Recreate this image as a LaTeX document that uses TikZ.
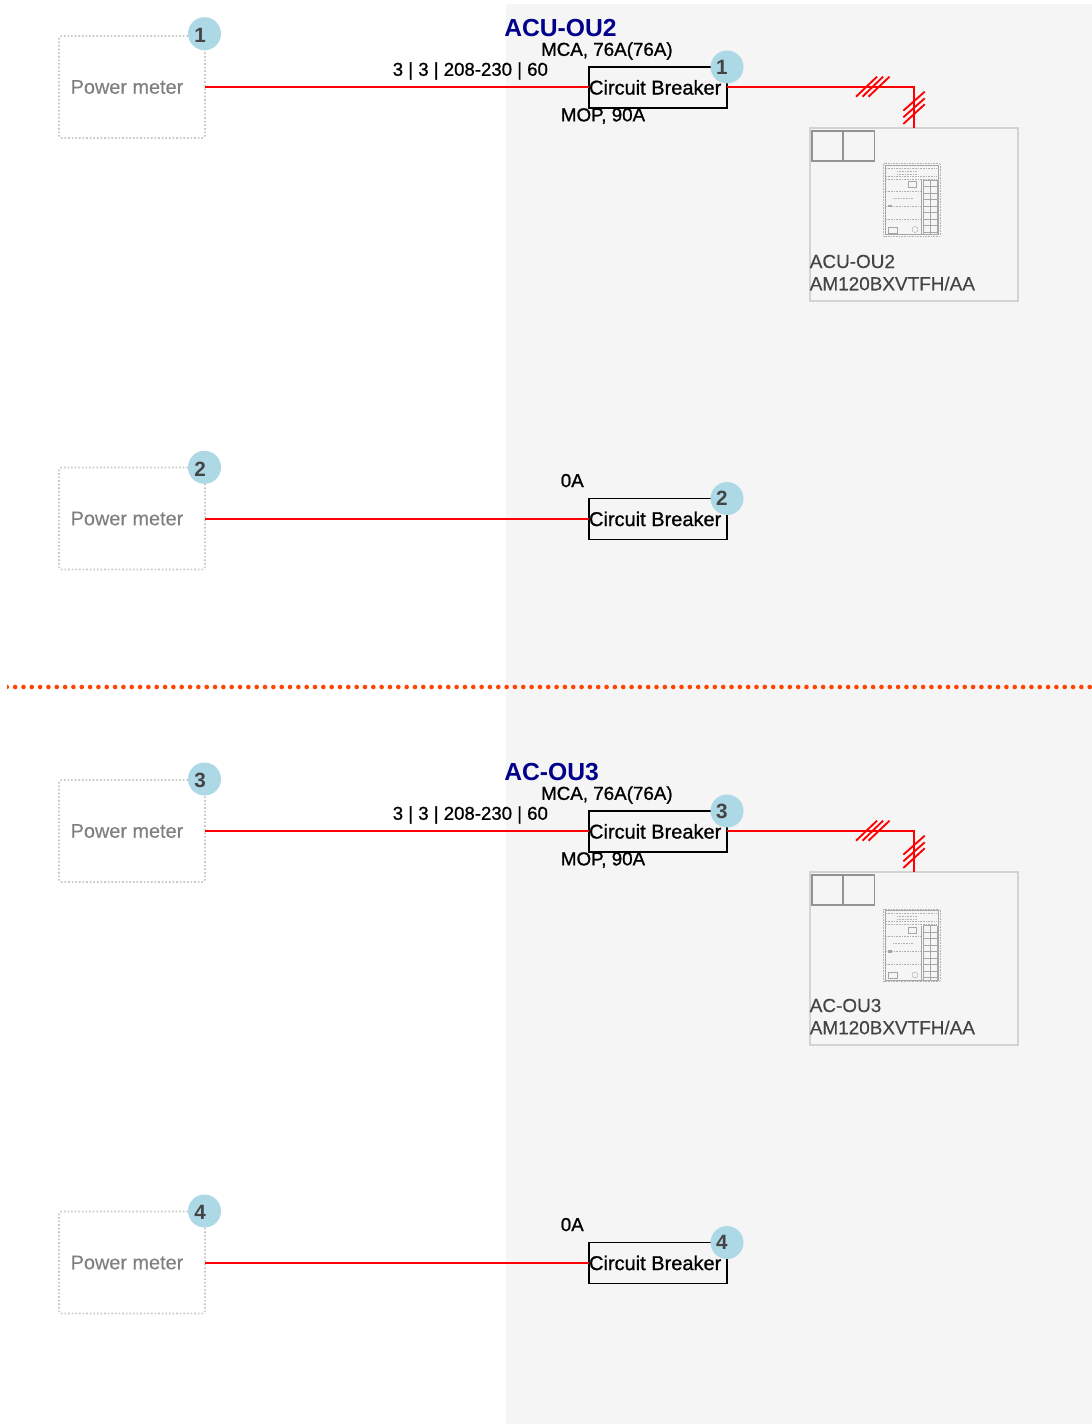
\documentclass[tikz,border=0pt]{standalone}
\usepackage{fontspec}
\setmainfont{Liberation Sans}
\newfontfamily\semibold[FakeBold=0.9]{Liberation Sans}
\newfontfamily\lightbold[FakeBold=0.3]{Liberation Sans}
\definecolor{bggray}{HTML}{F5F5F5}
\definecolor{badgeblue}{HTML}{ADD8E6}
\definecolor{darktxt}{HTML}{444444}
\definecolor{pmtxt}{HTML}{808080}
\definecolor{framegray}{HTML}{D3D3D3}
\definecolor{pmframe}{HTML}{C8C8C8}
\definecolor{sepred}{HTML}{FF4500}
\definecolor{titleblue}{HTML}{00008B}
\tikzset{
  x=0.75pt,y=-0.75pt,
  pmbox/.style={draw=pmframe,line width=1.2pt,dash pattern=on 1.2pt off 1.5pt,rounded corners=2pt,minimum width=109.5pt,minimum height=76.5pt,inner sep=0pt,outer sep=0pt},
  pmlabel/.style={text=pmtxt,font=\lightbold\fontsize{14.9}{15}\selectfont,inner sep=0pt},
  cbbox/.style={draw=black,line width=1.1pt,minimum width=103.5pt,minimum height=30.75pt,inner sep=0pt,outer sep=0pt},
  cblabel/.style={text=black,font=\semibold\fontsize{15}{15}\selectfont,inner sep=0pt},
  badge/.style={circle,fill=badgeblue,minimum size=24.75pt,inner sep=0pt},
  badgenum/.style={text=darktxt,font=\bfseries\fontsize{15.5}{16}\selectfont,inner sep=0pt},
  wire/.style={draw=red,line width=1.5pt},
  tick/.style={draw=red,line width=1.4pt},
  elec/.style={text=black,font=\semibold\fontsize{14.1}{15}\selectfont,inner sep=0pt,anchor=west},
  supply/.style={elec,font=\semibold\fontsize{13.95}{15}\selectfont},
  title/.style={text=titleblue,font=\bfseries\fontsize{18.5}{19}\selectfont,inner sep=0pt,anchor=west},
  unitbox/.style={draw=framegray,line width=1.3pt,minimum width=156pt,minimum height=129.75pt,inner sep=0pt,outer sep=0pt},
  unitlabel/.style={text=darktxt,font=\lightbold\fontsize{14.2}{15}\selectfont,inner sep=0pt,anchor=west},
  cell/.style={draw=gray!85,line width=.85pt,minimum width=23.25pt,minimum height=22.5pt,inner sep=0pt},
  iconline/.style={draw=gray!70,line width=.3pt},
  icondot/.style={draw=gray!60,line width=.45pt,dash pattern=on .7pt off .5pt},
}
% power-meter + breaker row: #1 id, #2 y offset, #3 y of the power-meter badge
\newcommand{\circuitrow}[3]{%
  \begin{scope}[shift={(0,#2)}]
    \node[pmbox] (pm#1) at (132,87) {};
    \node[pmlabel] (pmt#1) at (127,87) {Power meter};
    \node[cbbox] (cb#1) at (658,87.5) {};
    \node[badge] (cbb#1) at (727,67) {};
    \node[cblabel] (cbt#1) at (655.2,87.4) {Circuit Breaker};
    \node[badgenum] (cbn#1) at (721.8,67.2) {#1};
    \draw[wire] (pm#1.east |- 0,87) -- (cb#1.west |- 0,87);
  \end{scope}
  \node[badge] (pb#1) at (204.5,#3) {};
  \node[badgenum] (pn#1) at (200,#3+1.8) {#1};}
% outdoor unit: #1 id, #2 y offset, #3 name, #4 extra icon offset
\newcommand{\outdoorunit}[4]{%
  \begin{scope}[shift={(0,#2)}]
    \node[title] (ti#1) at (504,28) {#3};
    \node[elec] (mca#1) at (540.8,51) {MCA, 76A(76A)};
    \node[supply] (sup#1) at (392.5,71) {3 | 3 | 208-230 | 60};
    \node[elec] (mop#1) at (560.6,116) {MOP, 90A};
    \node[unitbox] (ou#1) at (914,214.5) {};
    \node[cell] (ca#1) at (827.5,146) {};
    \node[cell] (cc#1) at (859,146) {};
    \node[unitlabel] (ln#1) at (809.5,261.5) {#3};
    \node[unitlabel] (lm#1) at (809.5,283.5) {AM120BXVTFH/AA};
    \coordinate (bend#1) at (914,87);
    \draw[wire] (cb#1.east |- 0,87) -- (bend#1) -- (ou#1.north -| bend#1);
    \draw[tick] (856,96.7)--(877,76.7) (862.5,96.7)--(883,76.7) (868.5,96.7)--(889.5,76.7);
    \draw[tick] (903.3,110.7)--(924.7,91.7) (903.3,117.3)--(924.7,98.3) (903.3,124)--(924.7,104.3);
    % outdoor unit front-view icon
    \begin{scope}[shift={(0,#4)}]
    \draw[icondot] (883.5,163.5) rectangle (940,236);
    \draw[iconline] (885,165) rectangle (938.5,234.5);
    \draw[icondot] (886,168)--(937,168) (886,176)--(937,176) (886,179)--(937,179)
      (886,191)--(920,191) (886,206)--(920,206) (886,219)--(920,219);
    \draw[iconline] (921,180)--(921,234) (923,180)--(923,234) (930,180)--(930,234) (937,180)--(937,234);
    \foreach \yy in {180,186.5,193,199.5,206,212.5,219,225.5,232}
      \draw[iconline] (923,\yy)--(937,\yy);
    \draw[icondot] (897,171)--(917,171) (897,174)--(917,174) (893,198)--(913,198);
    \draw[iconline] (908.5,181.5) rectangle (916,187.5);
    \draw[iconline] (888,227) rectangle (897,233);
    \draw[iconline] (915,229.5) circle[radius=3];
    \fill[gray!70] (888,204.5) rectangle (892,207);
    \end{scope}
  \end{scope}}
\begin{document}
\begin{tikzpicture}
\useasboundingbox (0,0) rectangle (1092,1424);
\fill[white] (0,0) rectangle (1092,1424);
\fill[bggray] (506,4) rectangle (1092,1424);
\begin{scope}
  \clip (7,680) rectangle (1092,694);
  \foreach \xx in {6.8,15.13,...,1095}
    \fill[sepred] (\xx,687) circle[radius=2.3];
\end{scope}
\circuitrow{1}{0}{33.7}
\circuitrow{2}{431.5}{467.3}
\circuitrow{3}{744}{779}
\circuitrow{4}{1175.5}{1211}
\outdoorunit{1}{0}{ACU-OU2}{0}
\outdoorunit{3}{744}{AC-OU3}{1.5}
\node[elec] (zero2) at (560.5,480.6) {0A};
\node[elec] (zero4) at (560.5,1224.6) {0A};
\end{tikzpicture}
\end{document}
